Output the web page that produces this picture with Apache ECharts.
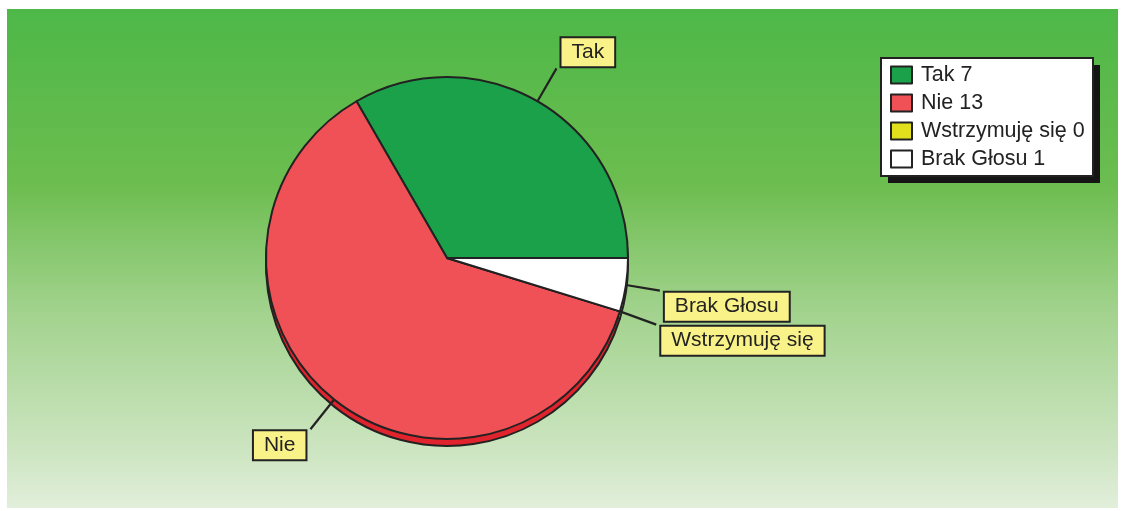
<!DOCTYPE html>
<html>
<head>
<meta charset="utf-8">
<script src="https://cdn.jsdelivr.net/npm/echarts@6/dist/echarts.min.js"></script>
<style>
  html, body { margin: 0; padding: 0; background: #fff; }
  #chart { position: absolute; left: 7px; top: 9px; width: 1111px; height: 499px; }
</style>
</head>
<body>
<div id="chart"></div>
<script>
// dane glosowania
const categories = ['Tak', 'Nie', 'Wstrzymuję się', 'Brak Głosu'];
const votes = [7, 13, 0, 1];
const sliceColors = ['#1ba14a', '#f05157', '#e2e01c', '#ffffff'];
const edgeColors = ['#14803a', '#e0232c', '#c4c210', '#d6d6d6'];

const chart = echarts.init(document.getElementById('chart'));

const mainData = categories.map((name, i) => ({
    name: name,
    value: votes[i],
    itemStyle: { color: sliceColors[i] }
}));
const edgeData = categories.map((name, i) => ({
    name: name,
    value: votes[i],
    itemStyle: { color: edgeColors[i] }
}));

// ramka legendy z cieniem
const legendBox = { left: 873, top: 48, width: 212, height: 118 };

const option = {
    backgroundColor: {
        type: 'linear', x: 0, y: 0, x2: 0, y2: 1,
        colorStops: [
            { offset: 0, color: '#4db848' },
            { offset: 0.35, color: '#6cbd4f' },
            { offset: 0.6, color: '#a1d28c' },
            { offset: 0.9, color: '#cfe6c4' },
            { offset: 1, color: '#e2efdb' }
        ]
    },
    animation: false,
    graphic: [
        {
            type: 'rect', z: 0,
            left: legendBox.left + 8, top: legendBox.top + 8,
            shape: { width: legendBox.width, height: legendBox.height },
            style: { fill: '#151515' }
        },
        {
            type: 'rect', z: 1,
            left: legendBox.left, top: legendBox.top,
            shape: { width: legendBox.width, height: legendBox.height },
            style: { fill: '#fff', stroke: '#222', lineWidth: 2 }
        }
    ],
    legend: {
        orient: 'vertical',
        left: legendBox.left + 10,
        top: legendBox.top + 7,
        padding: 0,
        itemWidth: 21,
        itemHeight: 17,
        itemGap: 6,
        icon: 'rect',
        z: 5,
        textStyle: { fontFamily: 'Liberation Sans', fontSize: 21.5, color: '#222', padding: [0, 0, 0, 4] },
        formatter: name => name + ' ' + votes[categories.indexOf(name)],
        data: categories
    },
    series: [
        {
            type: 'pie',
            name: 'glosy',
            z: 3,
            center: [440, 249],
            radius: 181,
            startAngle: 0,
            clockwise: false,
            itemStyle: { borderColor: '#222', borderWidth: 2 },
            label: {
                formatter: '{b}',
                fontFamily: 'Liberation Sans',
                fontSize: 21,
                color: '#222',
                backgroundColor: '#f8f288',
                borderColor: '#222',
                borderWidth: 2,
                padding: [4, 10, 3, 10]
            },
            labelLine: {
                length: 38,
                length2: 0,
                lineStyle: { color: '#222', width: 2.2 }
            },
            labelLayout: function (params) {
                const h = params.labelRect.height;
                // etykieta nad linia w gornej polowie, pod linia w dolnej
                return { dy: params.dataIndex === 0 ? -h / 2 : h / 2 };
            },
            emphasis: { disabled: true },
            data: mainData
        },
        {
            type: 'pie',
            name: 'krawedz',
            z: 2,
            silent: true,
            center: [440, 256],
            radius: 181,
            startAngle: 0,
            clockwise: false,
            itemStyle: { borderColor: '#222', borderWidth: 2 },
            label: { show: false },
            labelLine: { show: false },
            emphasis: { disabled: true },
            data: edgeData
        }
    ]
};

chart.setOption(option);
</script>
</body>
</html>
